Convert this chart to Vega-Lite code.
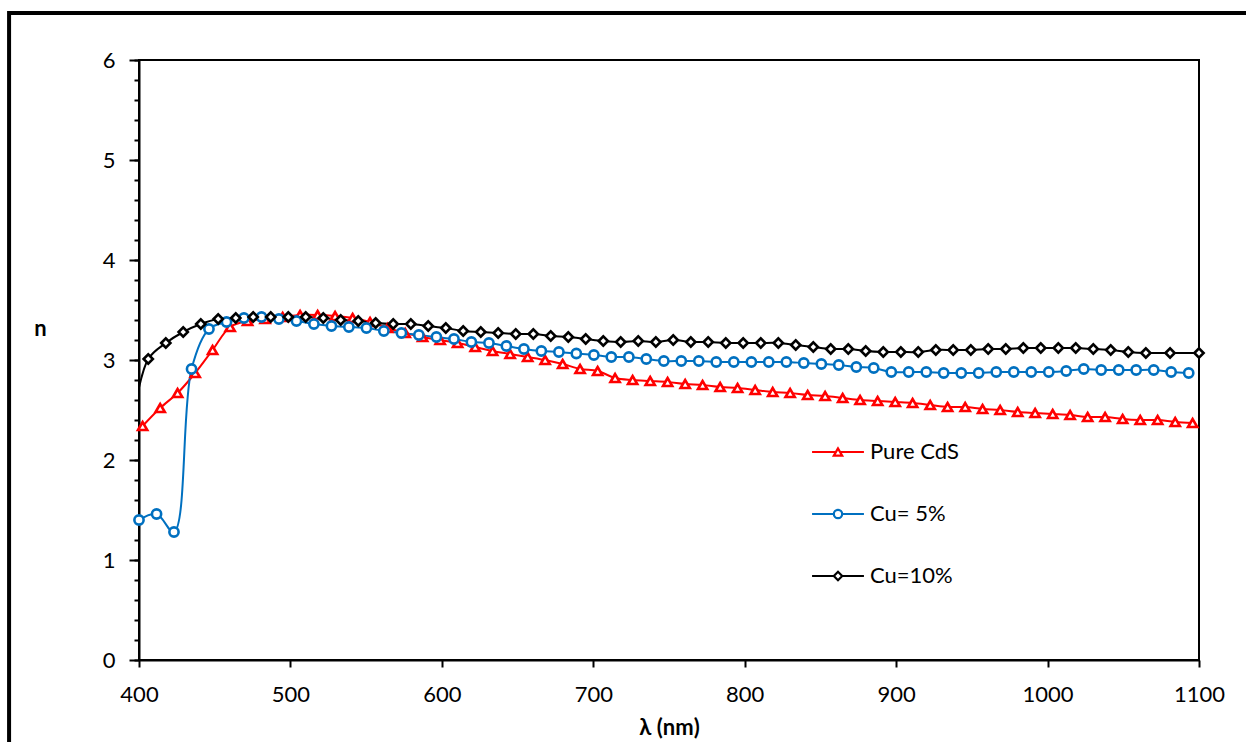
{
  "$schema": "https://vega.github.io/schema/vega-lite/v6.json",
  "width": 1060,
  "height": 600,
  "autosize": {"type": "none"},
  "padding": {"left": 139, "top": 60, "right": 47, "bottom": 82},
  "background": "white",
  "config": {
    "view": {"stroke": "black", "strokeWidth": 2},
    "font": "Lato",
    "axisX": {"grid": false, "tickSize": 7, "tickWidth": 2, "tickColor": "black", "domainColor": "black", "domainWidth": 2, "format": "d",
      "labelFont": "Lato", "labelFontSize": 22, "labelColor": "black", "labelPadding": 17, "labelFlush": false,
      "titleFont": "Lato", "titleFontSize": 22, "titleFontWeight": "bold", "titleColor": "black", "titlePadding": 12}
  },
  "data": {"values": [
    {"s":"Pure CdS","wl":402.4,"n":2.34},{"s":"Pure CdS","wl":414.0,"n":2.52},{"s":"Pure CdS","wl":425.5,"n":2.67},{"s":"Pure CdS","wl":437.1,"n":2.87},{"s":"Pure CdS","wl":448.6,"n":3.10},{"s":"Pure CdS","wl":460.2,"n":3.33},{"s":"Pure CdS","wl":471.7,"n":3.39},{"s":"Pure CdS","wl":483.3,"n":3.41},{"s":"Pure CdS","wl":494.9,"n":3.43},{"s":"Pure CdS","wl":506.4,"n":3.45},{"s":"Pure CdS","wl":518.0,"n":3.45},{"s":"Pure CdS","wl":529.5,"n":3.44},{"s":"Pure CdS","wl":541.1,"n":3.42},{"s":"Pure CdS","wl":552.6,"n":3.38},{"s":"Pure CdS","wl":564.2,"n":3.32},{"s":"Pure CdS","wl":575.8,"n":3.27},{"s":"Pure CdS","wl":587.3,"n":3.23},{"s":"Pure CdS","wl":598.9,"n":3.20},{"s":"Pure CdS","wl":610.4,"n":3.17},{"s":"Pure CdS","wl":622.0,"n":3.13},{"s":"Pure CdS","wl":633.5,"n":3.09},{"s":"Pure CdS","wl":645.1,"n":3.06},{"s":"Pure CdS","wl":656.7,"n":3.03},{"s":"Pure CdS","wl":668.2,"n":3.00},{"s":"Pure CdS","wl":679.8,"n":2.96},{"s":"Pure CdS","wl":691.3,"n":2.91},{"s":"Pure CdS","wl":702.9,"n":2.89},{"s":"Pure CdS","wl":714.4,"n":2.82},{"s":"Pure CdS","wl":726.0,"n":2.80},{"s":"Pure CdS","wl":737.6,"n":2.79},{"s":"Pure CdS","wl":749.1,"n":2.78},{"s":"Pure CdS","wl":760.7,"n":2.76},{"s":"Pure CdS","wl":772.2,"n":2.75},{"s":"Pure CdS","wl":783.8,"n":2.73},{"s":"Pure CdS","wl":795.3,"n":2.72},{"s":"Pure CdS","wl":806.9,"n":2.70},{"s":"Pure CdS","wl":818.5,"n":2.68},{"s":"Pure CdS","wl":830.0,"n":2.67},{"s":"Pure CdS","wl":841.6,"n":2.65},{"s":"Pure CdS","wl":853.1,"n":2.64},{"s":"Pure CdS","wl":864.7,"n":2.62},{"s":"Pure CdS","wl":876.2,"n":2.60},{"s":"Pure CdS","wl":887.8,"n":2.59},{"s":"Pure CdS","wl":899.4,"n":2.58},{"s":"Pure CdS","wl":910.9,"n":2.57},{"s":"Pure CdS","wl":922.5,"n":2.55},{"s":"Pure CdS","wl":934.0,"n":2.53},{"s":"Pure CdS","wl":945.6,"n":2.53},{"s":"Pure CdS","wl":957.1,"n":2.51},{"s":"Pure CdS","wl":968.7,"n":2.50},{"s":"Pure CdS","wl":980.3,"n":2.48},{"s":"Pure CdS","wl":991.8,"n":2.47},{"s":"Pure CdS","wl":1003.4,"n":2.46},{"s":"Pure CdS","wl":1014.9,"n":2.45},{"s":"Pure CdS","wl":1026.5,"n":2.43},{"s":"Pure CdS","wl":1038.0,"n":2.43},{"s":"Pure CdS","wl":1049.6,"n":2.41},{"s":"Pure CdS","wl":1061.2,"n":2.40},{"s":"Pure CdS","wl":1072.7,"n":2.40},{"s":"Pure CdS","wl":1084.3,"n":2.38},{"s":"Pure CdS","wl":1095.8,"n":2.37},
    {"s":"Cu= 5%","wl":400.0,"n":1.40},{"s":"Cu= 5%","wl":411.6,"n":1.46},{"s":"Cu= 5%","wl":423.1,"n":1.28},{"s":"Cu= 5%","wl":434.7,"n":2.91},{"s":"Cu= 5%","wl":446.2,"n":3.31},{"s":"Cu= 5%","wl":457.8,"n":3.38},{"s":"Cu= 5%","wl":469.3,"n":3.42},{"s":"Cu= 5%","wl":480.9,"n":3.43},{"s":"Cu= 5%","wl":492.4,"n":3.41},{"s":"Cu= 5%","wl":504.0,"n":3.39},{"s":"Cu= 5%","wl":515.5,"n":3.36},{"s":"Cu= 5%","wl":527.1,"n":3.34},{"s":"Cu= 5%","wl":538.6,"n":3.33},{"s":"Cu= 5%","wl":550.2,"n":3.32},{"s":"Cu= 5%","wl":561.7,"n":3.29},{"s":"Cu= 5%","wl":573.3,"n":3.27},{"s":"Cu= 5%","wl":584.8,"n":3.25},{"s":"Cu= 5%","wl":596.4,"n":3.23},{"s":"Cu= 5%","wl":608.0,"n":3.21},{"s":"Cu= 5%","wl":619.5,"n":3.18},{"s":"Cu= 5%","wl":631.1,"n":3.17},{"s":"Cu= 5%","wl":642.6,"n":3.14},{"s":"Cu= 5%","wl":654.2,"n":3.11},{"s":"Cu= 5%","wl":665.7,"n":3.09},{"s":"Cu= 5%","wl":677.3,"n":3.08},{"s":"Cu= 5%","wl":688.8,"n":3.065},{"s":"Cu= 5%","wl":700.4,"n":3.05},{"s":"Cu= 5%","wl":711.9,"n":3.03},{"s":"Cu= 5%","wl":723.5,"n":3.03},{"s":"Cu= 5%","wl":735.0,"n":3.01},{"s":"Cu= 5%","wl":746.6,"n":2.99},{"s":"Cu= 5%","wl":758.1,"n":2.99},{"s":"Cu= 5%","wl":769.7,"n":2.99},{"s":"Cu= 5%","wl":781.2,"n":2.98},{"s":"Cu= 5%","wl":792.8,"n":2.98},{"s":"Cu= 5%","wl":804.4,"n":2.98},{"s":"Cu= 5%","wl":815.9,"n":2.98},{"s":"Cu= 5%","wl":827.5,"n":2.98},{"s":"Cu= 5%","wl":839.0,"n":2.97},{"s":"Cu= 5%","wl":850.6,"n":2.96},{"s":"Cu= 5%","wl":862.1,"n":2.95},{"s":"Cu= 5%","wl":873.7,"n":2.93},{"s":"Cu= 5%","wl":885.2,"n":2.92},{"s":"Cu= 5%","wl":896.8,"n":2.88},{"s":"Cu= 5%","wl":908.3,"n":2.88},{"s":"Cu= 5%","wl":919.9,"n":2.88},{"s":"Cu= 5%","wl":931.4,"n":2.87},{"s":"Cu= 5%","wl":943.0,"n":2.87},{"s":"Cu= 5%","wl":954.5,"n":2.87},{"s":"Cu= 5%","wl":966.1,"n":2.88},{"s":"Cu= 5%","wl":977.7,"n":2.88},{"s":"Cu= 5%","wl":989.2,"n":2.88},{"s":"Cu= 5%","wl":1000.8,"n":2.88},{"s":"Cu= 5%","wl":1012.3,"n":2.89},{"s":"Cu= 5%","wl":1023.9,"n":2.91},{"s":"Cu= 5%","wl":1035.4,"n":2.90},{"s":"Cu= 5%","wl":1047.0,"n":2.90},{"s":"Cu= 5%","wl":1058.5,"n":2.90},{"s":"Cu= 5%","wl":1070.1,"n":2.90},{"s":"Cu= 5%","wl":1081.6,"n":2.88},{"s":"Cu= 5%","wl":1093.2,"n":2.87},
    {"s":"Cu=10%","wl":397.0,"n":2.50},{"s":"Cu=10%","wl":406.1,"n":3.01},{"s":"Cu=10%","wl":417.7,"n":3.17},{"s":"Cu=10%","wl":429.2,"n":3.28},{"s":"Cu=10%","wl":440.8,"n":3.36},{"s":"Cu=10%","wl":452.3,"n":3.41},{"s":"Cu=10%","wl":463.9,"n":3.42},{"s":"Cu=10%","wl":475.4,"n":3.43},{"s":"Cu=10%","wl":487.0,"n":3.43},{"s":"Cu=10%","wl":498.6,"n":3.43},{"s":"Cu=10%","wl":510.1,"n":3.43},{"s":"Cu=10%","wl":521.7,"n":3.42},{"s":"Cu=10%","wl":533.2,"n":3.40},{"s":"Cu=10%","wl":544.8,"n":3.39},{"s":"Cu=10%","wl":556.3,"n":3.37},{"s":"Cu=10%","wl":567.9,"n":3.36},{"s":"Cu=10%","wl":579.5,"n":3.36},{"s":"Cu=10%","wl":591.0,"n":3.34},{"s":"Cu=10%","wl":602.6,"n":3.32},{"s":"Cu=10%","wl":614.1,"n":3.29},{"s":"Cu=10%","wl":625.7,"n":3.28},{"s":"Cu=10%","wl":637.2,"n":3.27},{"s":"Cu=10%","wl":648.8,"n":3.26},{"s":"Cu=10%","wl":660.4,"n":3.26},{"s":"Cu=10%","wl":671.9,"n":3.24},{"s":"Cu=10%","wl":683.5,"n":3.23},{"s":"Cu=10%","wl":695.0,"n":3.21},{"s":"Cu=10%","wl":706.6,"n":3.19},{"s":"Cu=10%","wl":718.1,"n":3.18},{"s":"Cu=10%","wl":729.7,"n":3.19},{"s":"Cu=10%","wl":741.3,"n":3.18},{"s":"Cu=10%","wl":752.8,"n":3.20},{"s":"Cu=10%","wl":764.4,"n":3.18},{"s":"Cu=10%","wl":775.9,"n":3.18},{"s":"Cu=10%","wl":787.5,"n":3.17},{"s":"Cu=10%","wl":799.0,"n":3.17},{"s":"Cu=10%","wl":810.6,"n":3.17},{"s":"Cu=10%","wl":822.2,"n":3.17},{"s":"Cu=10%","wl":833.7,"n":3.15},{"s":"Cu=10%","wl":845.3,"n":3.13},{"s":"Cu=10%","wl":856.8,"n":3.11},{"s":"Cu=10%","wl":868.4,"n":3.11},{"s":"Cu=10%","wl":879.9,"n":3.09},{"s":"Cu=10%","wl":891.5,"n":3.08},{"s":"Cu=10%","wl":903.1,"n":3.08},{"s":"Cu=10%","wl":914.6,"n":3.08},{"s":"Cu=10%","wl":926.2,"n":3.10},{"s":"Cu=10%","wl":937.7,"n":3.10},{"s":"Cu=10%","wl":949.3,"n":3.10},{"s":"Cu=10%","wl":960.8,"n":3.11},{"s":"Cu=10%","wl":972.4,"n":3.11},{"s":"Cu=10%","wl":984.0,"n":3.12},{"s":"Cu=10%","wl":995.5,"n":3.12},{"s":"Cu=10%","wl":1007.1,"n":3.12},{"s":"Cu=10%","wl":1018.6,"n":3.12},{"s":"Cu=10%","wl":1030.2,"n":3.11},{"s":"Cu=10%","wl":1041.7,"n":3.10},{"s":"Cu=10%","wl":1053.3,"n":3.08},{"s":"Cu=10%","wl":1064.9,"n":3.07},{"s":"Cu=10%","wl":1080.9,"n":3.07},{"s":"Cu=10%","wl":1100.0,"n":3.07}
  ]},
  "resolve": {"axis": {"y": "independent"}},
  "layer": [
    {
      "data": {"values": [{}]},
      "mark": {"type": "rect", "fillOpacity": 0, "stroke": "black", "strokeWidth": 4, "clip": false},
      "encoding": {
        "x": {"datum": 314.2, "type": "quantitative", "title": "λ (nm)", "axis": {"values": [400, 500, 600, 700, 800, 900, 1000, 1100]}, "scale": {"domain": [400, 1100], "nice": false}},
        "x2": {"datum": 1400},
        "y": {"datum": 6.47, "type": "quantitative", "axis": null, "scale": {"domain": [0, 6], "nice": false}},
        "y2": {"datum": -2}
      }
    },
    {
      "mark": {"type": "line", "interpolate": "catmull-rom", "strokeWidth": 2, "clip": true},
      "encoding": {
        "x": {"field": "wl", "type": "quantitative", "title": "λ (nm)", "scale": {"domain": [400, 1100], "nice": false},
          "axis": {"values": [400, 500, 600, 700, 800, 900, 1000, 1100]}},
        "y": {"field": "n", "type": "quantitative", "scale": {"domain": [0, 6], "nice": false},
          "axis": {"values": [0, 1, 2, 3, 4, 5, 6], "title": "n", "grid": false, "orient": "left",
            "tickSize": 10, "tickWidth": 2, "tickColor": "black", "domainColor": "black", "domainWidth": 2,
            "labelFont": "Lato", "labelFontSize": 22, "labelColor": "black", "labelPadding": 14,
            "titleFont": "Lato", "titleFontSize": 22, "titleFontWeight": "bold", "titleColor": "black",
            "titleAngle": 0, "titleX": -99, "titleY": 268, "titleAlign": "center", "titleBaseline": "middle"}},
        "color": {"field": "s", "type": "nominal", "sort": null,
          "scale": {"range": ["#FF0000", "#0070C0", "#000000"]},
          "legend": {"orient": "none", "legendX": 688, "legendY": 381, "title": null, "padding": 0,
            "symbolType": "M-6.2,0H6.2", "symbolSize": 70, "symbolStrokeWidth": 2,
            "labelFont": "Lato", "labelFontSize": 22, "labelColor": "black", "labelOffset": 21, "rowPadding": 40}},
        "order": {"field": "wl", "type": "quantitative"}
      }
    },
    {
      "transform": [{"filter": "datum.wl >= 400"}],
      "mark": {"type": "point", "filled": true, "fill": "white", "strokeWidth": 2.6, "size": 85, "opacity": 1},
      "encoding": {
        "x": {"field": "wl", "type": "quantitative", "title": "λ (nm)", "axis": {"values": [400, 500, 600, 700, 800, 900, 1000, 1100]}},
        "y": {"field": "n", "type": "quantitative",
          "axis": {"values": [0, 0.2, 0.4, 0.6, 0.8, 1, 1.2, 1.4, 1.6, 1.8, 2, 2.2, 2.4, 2.6, 2.8, 3, 3.2, 3.4, 3.6, 3.8, 4, 4.2, 4.4, 4.6, 4.8, 5, 5.2, 5.4, 5.6, 5.8, 6],
            "orient": "left", "labels": false, "domain": false, "grid": false, "title": null,
            "tickSize": 5, "tickWidth": 2, "tickColor": "black"}},
        "stroke": {"field": "s", "type": "nominal",
          "scale": {"domain": ["Pure CdS", "Cu= 5%", "Cu=10%"], "range": ["#FF0000", "#0070C0", "#000000"]},
          "legend": {"orient": "none", "legendX": 688, "legendY": 381, "title": null, "padding": 0,
            "symbolSize": 70, "symbolStrokeWidth": 2.2, "symbolFillColor": "white",
            "labelFont": "Lato", "labelFontSize": 22, "labelColor": "black", "labelOpacity": 0, "labelOffset": 21, "rowPadding": 40}},
        "shape": {"field": "s", "type": "nominal",
          "scale": {"domain": ["Pure CdS", "Cu= 5%", "Cu=10%"], "range": ["triangle-up", "circle", "diamond"]},
          "legend": {"orient": "none", "legendX": 688, "legendY": 381, "title": null, "padding": 0,
            "symbolSize": 70, "symbolStrokeWidth": 2.2, "symbolFillColor": "white",
            "labelFont": "Lato", "labelFontSize": 22, "labelColor": "black", "labelOpacity": 0, "labelOffset": 21, "rowPadding": 40}}
      }
    }
  ]
}
